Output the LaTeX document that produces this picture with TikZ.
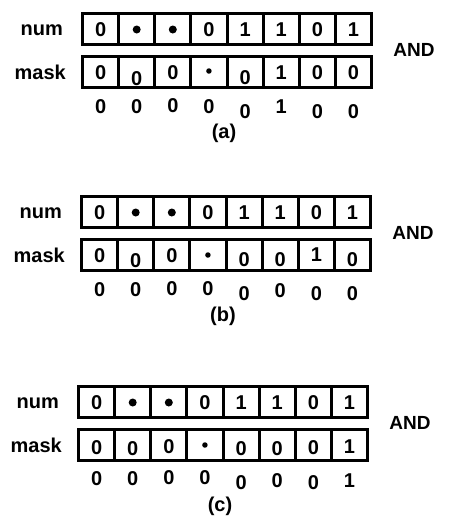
\documentclass[tikz,border=0pt]{standalone}
\usepackage{fontspec}
\setmainfont{Liberation Sans}
\usetikzlibrary{positioning}
\tikzset{
  bitcell/.style={draw,line width=3pt,minimum width=36.125pt,minimum height=31pt,inner sep=0pt},
  bittext/.style={font=\fontsize{20}{24}\selectfont\bfseries,inner sep=0pt,text height=14.3pt,text depth=0pt},
  rowlabel/.style={font=\fontsize{20}{24}\selectfont\bfseries,inner sep=0pt,text height=14pt,text depth=0pt},
  oplabel/.style={font=\fontsize{19}{22}\selectfont\bfseries,inner sep=0pt},
  caption/.style={font=\fontsize{20}{24}\selectfont\bfseries,inner sep=0pt},
  bigdot/.style={circle,fill,inner sep=0pt,minimum size=8pt},
  smalldot/.style={circle,fill,inner sep=0pt,minimum size=5.5pt},
}
% #1 name, #2 shift, #3 mask bits, #4 result bits, #5 caption
\newcommand{\andpanel}[5]{%
  \begin{scope}[shift={#2}]
    \foreach \s/\t/\dy [count=\i] in {bittext/0/1,bigdot//1,bigdot//1,bittext/0/1,bittext/1/1,bittext/1/1,bittext/0/1,bittext/1/1} {
      \node[bitcell] (#1-num-\i) at ({64.44+36.125*\i},28.5) {};
      \node[\s] (#1-numbit-\i) at ({64.44+36.125*\i},{28.5+\dy}) {\t};
    }
    \foreach \s/\t/\dy [count=\i] in {#3} {
      \node[bitcell] (#1-mask-\i) at ({64.44+36.125*\i},72) {};
      \node[\s] (#1-maskbit-\i) at ({64.44+36.125*\i},{72+\dy}) {\t};
    }
    \foreach \t/\dy [count=\i] in {#4}
      \node[bittext] (#1-res-\i) at ({64.44+36.125*\i},{106+\dy}) {\t};
    \node[rowlabel,left=18pt of #1-num-1] (#1-numlabel) {num};
    \node[rowlabel,left=15pt of #1-mask-1] (#1-masklabel) {mask};
    \node[oplabel] (#1-and) at (414,50) {AND};
    \node[caption] (#1-cap) at (224,133) {#5};
  \end{scope}}

\begin{document}
\begin{tikzpicture}[x=1pt,y=-1pt]
  \useasboundingbox (0,0) rectangle (451,531);
  \andpanel{a}{(0,0)}
    {bittext/0/0,bittext/0/6,bittext/0/0,smalldot//-1,bittext/0/5,bittext/1/0,bittext/0/0,bittext/0/0}
    {0/0,0/0,0/-1,0/0,0/5,1/0,0/5,0/5}{(a)}
  \andpanel{b}{(-1,183)}
    {bittext/0/0,bittext/0/5,bittext/0/0,smalldot//0,bittext/0/4,bittext/0/4,bittext/1/-1,bittext/0/4}
    {0/0,0/0,0/-1,0/-1,0/4,0/1,0/4,0/4}{(b)}
  \andpanel{c}{(-4,373)}
    {bittext/0/2,bittext/0/3,bittext/0/1,smalldot//0,bittext/0/3,bittext/0/3,bittext/0/2,bittext/1/1}
    {0/-1,0/-1,0/-2,0/-2,0/3,0/1,0/3,1/1}{(c)}
\end{tikzpicture}
\end{document}
